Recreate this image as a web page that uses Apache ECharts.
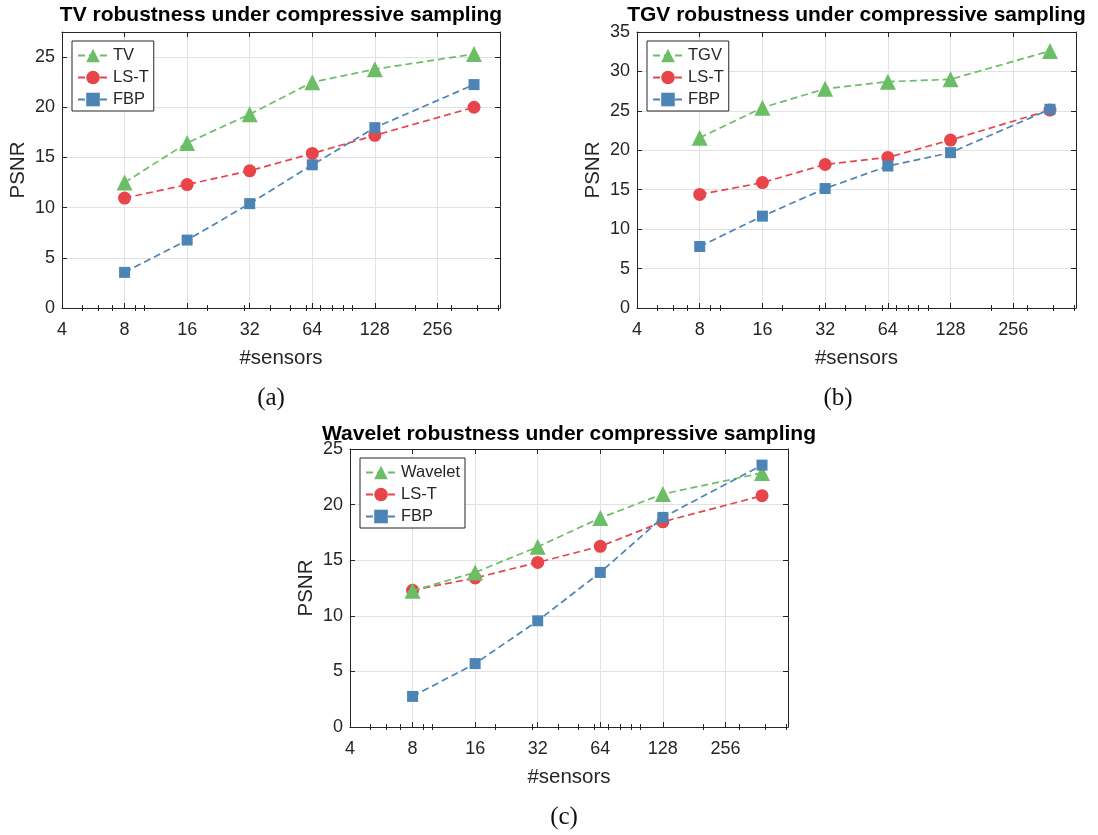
<!DOCTYPE html>
<html>
<head>
<meta charset="utf-8">
<script src="https://cdn.jsdelivr.net/npm/echarts@6/dist/echarts.min.js"></script>
<style>
  html, body { margin: 0; padding: 0; background: #fff; }
  #chart { width: 1098px; height: 835px; }
</style>
</head>
<body>
<div id="chart"></div>
<script>
// Number of sensors (log2 x axis)
const sensors = [8, 16, 32, 64, 128, 384];
const xTickLabels = [4, 8, 16, 32, 64, 128, 256];
const xMinorTicks = [5, 6, 7, 9, 10, 20, 30, 40, 50, 60, 70, 80, 90, 100, 200, 300, 400, 500];
const yTickStep = 5;

// (a) TV
const tvTV   = [12.5, 16.45, 19.3, 22.5, 23.8, 25.3];
const tvLST  = [10.95, 12.3, 13.67, 15.4, 17.2, 20.0];
const tvFBP  = [3.55, 6.77, 10.4, 14.27, 17.97, 22.26];
// (b) TGV
const tgvTGV = [21.6, 25.4, 27.8, 28.7, 29.0, 32.6];
const tgvLST = [14.4, 15.9, 18.2, 19.1, 21.3, 25.1];
const tgvFBP = [7.8, 11.65, 15.15, 18.0, 19.7, 25.2];
// (c) Wavelet
const wavWav = [12.25, 13.9, 16.2, 18.8, 20.95, 22.85];
const wavLST = [12.3, 13.4, 14.8, 16.25, 18.45, 20.8];
const wavFBP = [2.75, 5.7, 9.55, 13.9, 18.85, 23.55];

const panelTitles = [
  'TV robustness under compressive sampling',
  'TGV robustness under compressive sampling',
  'Wavelet robustness under compressive sampling'
];
const methodNames = ['TV', 'TGV', 'Wavelet'];
const captions = ['(a)', '(b)', '(c)'];
const yMaxes = [27.5, 35, 25];

const panelData = [
  [tvTV, tvLST, tvFBP],
  [tgvTGV, tgvLST, tgvFBP],
  [wavWav, wavLST, wavFBP]
];

const C_GREEN = '#6bbd66';
const C_RED = '#e8454b';
const C_BLUE = '#4c85b5';
const INK = '#262626';
const SANS = '"Liberation Sans", Arial, Helvetica, sans-serif';
const SERIF = '"Liberation Serif", "DejaVu Serif", serif';

const rects = [
  { left: 62,  top: 32,  width: 438, height: 276 },
  { left: 637, top: 32,  width: 439, height: 276 },
  { left: 350, top: 449, width: 438, height: 278 }
];

const grid = [], xAxis = [], yAxis = [], series = [], legend = [], graphic = [];

rects.forEach((r, i) => {
  grid.push(Object.assign({ containLabel: false }, r));

  const xBase = { type: 'log', logBase: 2, gridIndex: i, min: 4, max: 512, splitNumber: 7 };
  // bottom, labelled, with grid lines
  xAxis.push(Object.assign({}, xBase, {
    position: 'bottom',
    axisLine: { show: true, onZero: false, lineStyle: { color: INK, width: 1 } },
    axisTick: { show: true, inside: true, length: 5, customValues: xTickLabels, lineStyle: { color: INK } },
    axisLabel: { customValues: xTickLabels, formatter: v => String(Math.round(v)), color: INK, fontSize: 18, fontFamily: SANS, margin: 13 },
    splitLine: { show: true, lineStyle: { color: '#e2e2e2', width: 1 } },
    name: '#sensors', nameLocation: 'middle', nameGap: 40,
    nameTextStyle: { color: INK, fontSize: 20.5, fontFamily: SANS }
  }));
  // bottom minor ticks
  xAxis.push(Object.assign({}, xBase, {
    position: 'bottom',
    axisLine: { show: false },
    axisTick: { show: true, inside: true, length: 3, customValues: xMinorTicks, lineStyle: { color: INK } },
    axisLabel: { show: false },
    splitLine: { show: false }
  }));
  // top border with ticks
  xAxis.push(Object.assign({}, xBase, {
    position: 'top',
    axisLine: { show: true, onZero: false, lineStyle: { color: INK, width: 1 } },
    axisTick: { show: true, inside: true, length: 5, customValues: xTickLabels, lineStyle: { color: INK } },
    axisLabel: { show: false },
    splitLine: { show: false }
  }));
  xAxis.push(Object.assign({}, xBase, {
    position: 'top',
    axisLine: { show: false },
    axisTick: { show: true, inside: true, length: 3, customValues: xMinorTicks, lineStyle: { color: INK } },
    axisLabel: { show: false },
    splitLine: { show: false }
  }));

  const yBase = { type: 'value', gridIndex: i, min: 0, max: yMaxes[i], interval: yTickStep };
  yAxis.push(Object.assign({}, yBase, {
    position: 'left',
    axisLine: { show: true, onZero: false, lineStyle: { color: INK, width: 1 } },
    axisTick: { show: true, inside: true, length: 5, lineStyle: { color: INK } },
    axisLabel: {
      formatter: v => (Math.abs(v % yTickStep) < 1e-9 ? String(v) : ''),
      color: INK, fontSize: 18, fontFamily: SANS, margin: 7
    },
    splitLine: { show: true, lineStyle: { color: '#e2e2e2', width: 1 } },
    name: 'PSNR', nameLocation: 'middle', nameGap: 33,
    nameTextStyle: { color: INK, fontSize: 20.5, fontFamily: SANS }
  }));
  yAxis.push(Object.assign({}, yBase, {
    position: 'right',
    axisLine: { show: true, onZero: false, lineStyle: { color: INK, width: 1 } },
    axisTick: { show: true, inside: true, length: 5, lineStyle: { color: INK } },
    axisLabel: { show: false },
    splitLine: { show: false }
  }));

  const [mVals, lVals, fVals] = panelData[i];
  const defs = [
    { name: methodNames[i], vals: mVals, color: C_GREEN, symbol: 'triangle', size: 16, z: 3 },
    { name: 'LS-T', vals: lVals, color: C_RED, symbol: 'circle', size: 13, z: 2 },
    { name: 'FBP', vals: fVals, color: C_BLUE, symbol: 'rect', size: 11, z: 4 }
  ];
  defs.forEach(d => {
    series.push({
      type: 'line',
      name: d.name,
      xAxisIndex: i * 4,
      yAxisIndex: i * 2,
      data: sensors.map((s, k) => [s, d.vals[k]]),
      symbol: d.symbol,
      symbolSize: d.size,
      showSymbol: true,
      z: d.z,
      lineStyle: { color: d.color, width: 1.7, type: [7, 4] },
      itemStyle: { color: d.color, borderWidth: 0 },
      emphasis: { disabled: true },
      animation: false
    });
  });

  legend.push({
    data: defs.map(d => d.name),
    orient: 'vertical',
    left: r.left + 10,
    top: r.top + 9,
    backgroundColor: '#fff',
    borderColor: INK,
    borderWidth: 1,
    borderRadius: 0,
    padding: [6, 5, 3, 5],
    itemGap: 5,
    itemWidth: 30,
    itemHeight: 17,
    selectedMode: false,
    textStyle: { color: INK, fontSize: 16.5, fontFamily: SANS }
  });

  graphic.push({
    type: 'text',
    x: r.left + r.width / 2,
    y: i < 2 ? 15 : 434,
    style: {
      text: panelTitles[i],
      font: 'bold 21px ' + SANS,
      fill: '#000',
      textAlign: 'center',
      textVerticalAlign: 'middle'
    }
  });
});

// sub-figure captions
const captionPos = [[271, 398], [838, 398], [564, 817]];
captions.forEach((c, i) => {
  graphic.push({
    type: 'text',
    x: captionPos[i][0],
    y: captionPos[i][1],
    style: {
      text: c,
      font: '25px ' + SERIF,
      fill: '#111',
      textAlign: 'center',
      textVerticalAlign: 'middle'
    }
  });
});

const chart = echarts.init(document.getElementById('chart'), null, { renderer: 'canvas' });
chart.setOption({
  backgroundColor: '#ffffff',
  animation: false,
  grid, xAxis, yAxis, series, legend, graphic
});
</script>
</body>
</html>
